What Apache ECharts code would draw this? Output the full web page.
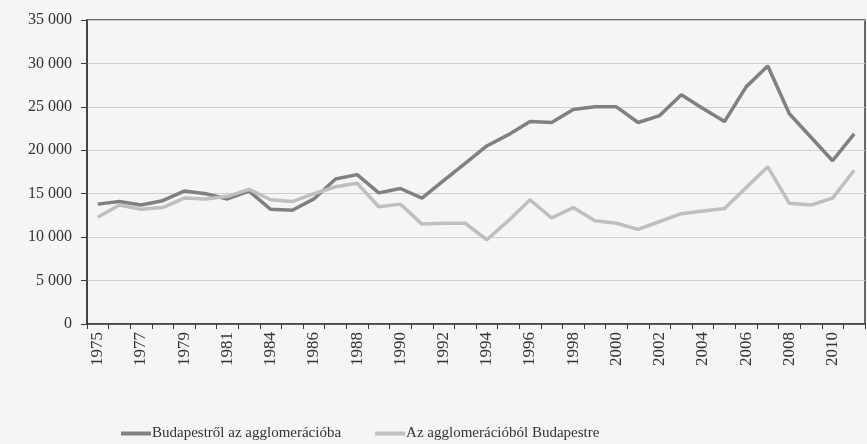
<!DOCTYPE html>
<html>
<head>
<meta charset="utf-8">
<script src="https://cdn.jsdelivr.net/npm/echarts@6/dist/echarts.min.js"></script>
<style>
html,body{margin:0;padding:0;background:#f5f5f5;}
#main{width:867px;height:444px;}
</style>
</head>
<body>
<div id="main"></div>
<script>
// évek (1982 hiányzik az eredeti tengelyen)
var years = ['1975','1976','1977','1978','1979','1980','1981','1983','1984','1985','1986','1987','1988','1989','1990','1991','1992','1993','1994','1995','1996','1997','1998','1999','2000','2001','2002','2003','2004','2005','2006','2007','2008','2009','2010','2011'];
var seriesNames = ['Budapestről az agglomerációba', 'Az agglomerációból Budapestre'];
var fromBudapest = [13800,14100,13700,14200,15300,15000,14400,15300,13200,13100,14400,16700,17200,15100,15600,14500,16500,18500,20500,21800,23300,23200,24700,25000,25000,23200,24000,26400,24800,23300,27300,29700,24200,21500,18800,21900];
var toBudapest = [12300,13700,13200,13400,14500,14400,14700,15500,14300,14100,15000,15800,16200,13500,13800,11500,11600,11600,9700,11900,14300,12200,13400,11900,11600,10900,11800,12700,13000,13300,15700,18100,13900,13700,14500,17700];

var font = '"Liberation Serif", "DejaVu Serif", serif';
var myChart = echarts.init(document.getElementById('main'));

var option = {
    backgroundColor: '#f5f5f5',
    textStyle: {fontFamily: font},
    grid: {
        left: 87, right: 2, top: 20, bottom: 120,
        show: true, borderColor: '#3a3a3a', borderWidth: 1.5,
        backgroundColor: '#f5f5f5'
    },
    legend: {
        left: 116, top: 421,
        icon: 'rect', itemWidth: 30, itemHeight: 4, itemGap: 34,
        textStyle: {fontFamily: font, fontSize: 15, color: '#333', padding: [0, 0, 0, -4]},
        data: seriesNames
    },
    xAxis: {
        type: 'category',
        data: years,
        boundaryGap: true,
        axisLine: {lineStyle: {color: '#3a3a3a', width: 1.5}},
        axisTick: {show: true, length: 5, interval: 0, lineStyle: {color: '#3a3a3a'}},
        axisLabel: {interval: 1, rotate: 90, fontFamily: font, fontSize: 17, color: '#333', margin: 8}
    },
    yAxis: {
        type: 'value',
        min: 0, max: 35000, interval: 5000,
        axisLine: {show: true, lineStyle: {color: '#3a3a3a', width: 1.5}},
        axisTick: {show: true, length: 6, lineStyle: {color: '#3a3a3a'}},
        splitLine: {lineStyle: {color: '#cfcfcf', width: 1}},
        axisLabel: {
            fontFamily: font, fontSize: 16, color: '#333', margin: 15,
            formatter: function (v) { return String(v).replace(/\B(?=(\d{3})+(?!\d))/g, ' '); }
        }
    },
    series: [
        {
            name: seriesNames[0], type: 'line', data: fromBudapest,
            symbol: 'none', color: '#808080',
            lineStyle: {width: 3.5, color: '#808080'}
        },
        {
            name: seriesNames[1], type: 'line', data: toBudapest,
            symbol: 'none', color: '#bfbfbf',
            lineStyle: {width: 3.5, color: '#bfbfbf'}
        }
    ]
};

myChart.setOption(option);
</script>
</body>
</html>
